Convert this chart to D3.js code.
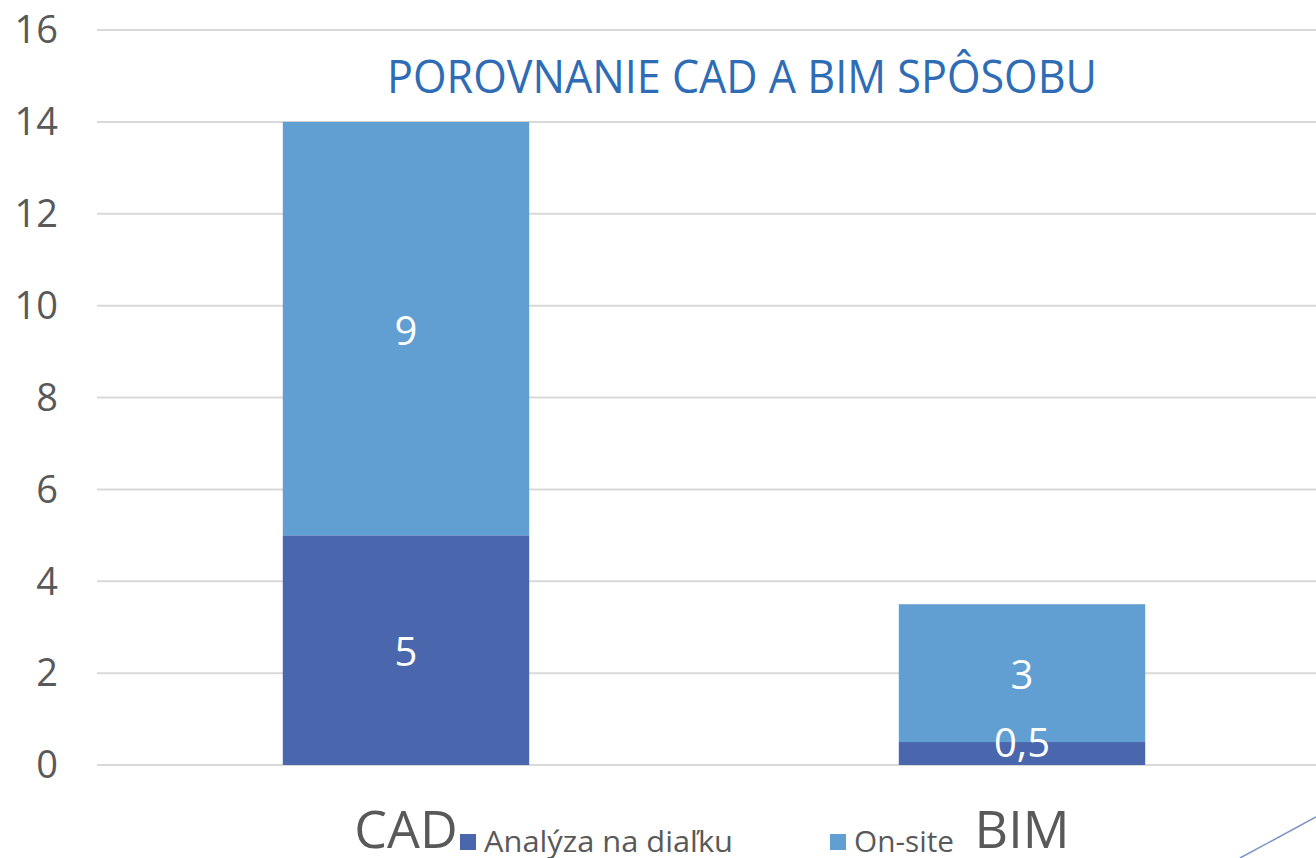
<!DOCTYPE html>
<html>
<head>
<meta charset="utf-8">
<script src="https://cdn.jsdelivr.net/npm/d3@7"></script>
<style>
  html, body { margin: 0; padding: 0; background: #fff; }
  svg { display: block; font-family: "Open Sans", "Noto Sans", sans-serif; }
</style>
</head>
<body>
<svg id="chart" width="1316" height="858"></svg>
<script>
// data
const categories = ["CAD", "BIM"];
const seriesNames = ["Analýza na diaľku", "On-site"];
const remote = [5, 0.5];
const onsite = [9, 3];
const labelText = ["5", "0,5", "9", "3"];
const yTicks = [0, 2, 4, 6, 8, 10, 12, 14, 16];

const colors = ["#4a67ae", "#619ed1"];
const W = 1316, H = 858;
const svg = d3.select("#chart");

const x = d3.scaleBand().domain(categories).range([98, 1330]).paddingInner(0.6).paddingOuter(0.3);
const y = d3.scaleLinear().domain([0, 16]).range([765, 30]);

// grid
svg.append("g").selectAll("line").data(yTicks).join("line")
  .attr("x1", 97).attr("x2", W)
  .attr("y1", d => y(d)).attr("y2", d => y(d))
  .attr("stroke", "#d9d9d9").attr("stroke-width", 2);

// y axis labels
svg.append("g").selectAll("text").data(yTicks).join("text")
  .attr("x", 58).attr("y", d => y(d)).attr("dy", "0.35em")
  .attr("text-anchor", "end")
  .attr("font-size", 38).attr("fill", "#595959")
  .text(d => d);

// stacked data
const rows = categories.map((c, i) => ({cat: c, remote: remote[i], onsite: onsite[i]}));
const stack = d3.stack().keys(["remote", "onsite"])(rows);

const layers = svg.append("g").selectAll("g").data(stack).join("g")
  .attr("fill", (d, i) => colors[i]);
layers.selectAll("rect").data(d => d).join("rect")
  .attr("x", d => x(d.data.cat))
  .attr("width", x.bandwidth())
  .attr("y", d => y(d[1]))
  .attr("height", d => y(d[0]) - y(d[1]));

// data labels
stack.forEach((layer, li) => {
  layer.forEach((d, ci) => {
    let cy = (y(d[0]) + y(d[1])) / 2 + 2;
    cy = Math.min(cy, y(0) - 22);
    svg.append("text")
      .attr("x", x(d.data.cat) + x.bandwidth() / 2)
      .attr("y", cy).attr("dy", "0.35em")
      .attr("text-anchor", "middle")
      .attr("font-size", 40).attr("fill", "#fff")
      .text(labelText[li * 2 + ci]);
  });
});

// title
svg.append("text")
  .attr("x", 742).attr("y", 93)
  .attr("text-anchor", "middle")
  .attr("font-family", "'Liberation Sans Narrow', 'Open Sans', sans-serif")
  .attr("font-size", 46).attr("fill", "#2e6cb5")
  .attr("textLength", 710).attr("lengthAdjust", "spacingAndGlyphs")
  .text("POROVNANIE CAD A BIM SPÔSOBU");

// category labels
svg.append("g").selectAll("text").data(categories).join("text")
  .attr("x", d => x(d) + x.bandwidth() / 2)
  .attr("y", 848)
  .attr("text-anchor", "middle")
  .attr("font-size", 52).attr("fill", "#595959")
  .text(d => d);

// legend
const legendX = [460, 830];
const legendW = [249, 100];
const lg = svg.append("g").selectAll("g").data(seriesNames).join("g")
  .attr("transform", (d, i) => `translate(${legendX[i]},834)`);
lg.append("rect").attr("width", 16).attr("height", 16).attr("fill", (d, i) => colors[i]);
lg.append("text").attr("x", 24).attr("y", 18)
  .attr("font-size", 29).attr("fill", "#595959")
  .attr("textLength", (d, i) => legendW[i]).attr("lengthAdjust", "spacingAndGlyphs")
  .text(d => d);

// decorative slide line
svg.append("line")
  .attr("x1", 1240).attr("y1", 858).attr("x2", 1316).attr("y2", 817)
  .attr("stroke", "#7a90c8").attr("stroke-width", 1.5);
</script>
</body>
</html>
